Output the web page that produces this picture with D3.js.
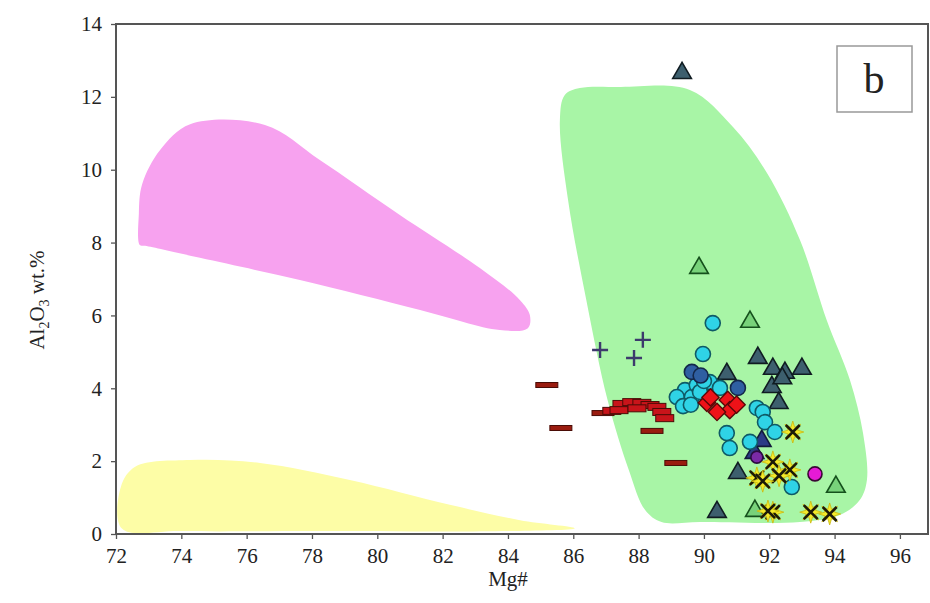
<!DOCTYPE html>
<html>
<head>
<meta charset="utf-8">
<script src="https://cdn.jsdelivr.net/npm/d3@7"></script>
<style>
  html, body { margin: 0; padding: 0; background: #ffffff; }
  svg { display: block; }
  text { font-family: "Liberation Serif", "DejaVu Serif", serif; fill: #222; }
</style>
</head>
<body>
<svg id="chart" width="930" height="603"></svg>
<script>
// Axis ticks
const xTicks = [72, 74, 76, 78, 80, 82, 84, 86, 88, 90, 92, 94, 96];
const yTicks = [0, 2, 4, 6, 8, 10, 12, 14];

// Field outlines [Mg#, Al2O3]
const pinkField = [[72.73,7.93],[72.70,8.80],[72.80,9.60],[73.35,10.54],[74.27,11.25],[76.56,11.23],[78.24,10.27],
  [80.69,8.76],[83.14,7.30],[84.37,6.42],[84.67,6.01],[84.61,5.65],[83.75,5.60],[81.31,6.15],
  [77.63,6.97],[74.57,7.58],[72.89,7.91]];
const yellowField = [[72.18,0.15],[72.15,1.30],[72.60,1.85],[74.27,2.03],[76.41,1.95],[79.16,1.48],
  [82.22,0.80],[84.37,0.38],[86.05,0.16],[84.0,0.08],[78.0,0.08],[74.0,0.08]];
const greenField = [[86.20,12.24],[87.43,12.27],[89.57,12.19],[90.89,11.17],[91.93,9.91],[92.94,8.07],
  [93.76,5.87],[94.47,4.23],[94.87,2.77],[94.99,1.48],[94.77,0.93],[94.16,0.52],[92.94,0.33],
  [89.88,0.33],[88.70,0.33],[88.20,0.66],[87.70,1.76],[87.05,3.68],[86.40,6.42],[85.84,9.17],
  [85.59,11.36],[85.74,12.05]];

// Sample series [Mg#, Al2O3]
const darkDashes = [[85.19,4.09],[85.62,2.91],[86.91,3.32],[88.41,2.83],[89.14,1.95]];
const redDashes = [[87.18,3.38],[87.49,3.57],[87.79,3.62],[88.10,3.60],[88.35,3.54],[88.56,3.49],
  [88.71,3.35],[88.80,3.18],[87.40,3.40],[87.95,3.45]];
const crosses = [[86.82,5.05],[87.86,4.83],[88.13,5.33]];
const openTriangles = [[89.85,7.33],[91.41,5.85],[94.04,1.32],[91.56,0.66]];
const slateTriangles = [[89.33,12.68],[90.70,4.42],[91.65,4.86],[92.11,4.56],[92.48,4.45],
  [93.00,4.56],[92.08,4.06],[92.29,3.62],[91.04,1.70],[90.40,0.63],[92.40,4.30]];
const navyTriangles = [[91.77,2.58],[91.55,2.25]];
const cyanCircles = [[90.27,5.79],[89.97,4.94],[90.18,4.17],[89.42,3.95],[89.17,3.76],[89.63,3.76],
  [89.36,3.51],[90.49,4.01],[91.62,3.46],[91.80,3.35],[91.87,3.07],[92.17,2.80],[90.70,2.77],
  [90.79,2.36],[91.41,2.53],[92.69,1.29],[89.78,4.09],[89.88,3.90],[89.60,3.55],[90.00,4.20]];
const blueCircles = [[89.63,4.45],[91.04,4.01],[89.90,4.35]];
const redDiamonds = [[90.09,3.60],[90.73,3.68],[90.79,3.40],[90.40,3.35],[91.00,3.55],[90.20,3.75]];
const purpleCircles = [[91.62,2.11]];
const magentaCircles = [[93.40,1.65]];
const yellowStars = [[92.72,2.80],[91.62,1.54],[92.11,1.98],[92.63,1.76],[92.11,0.60],[93.27,0.60],
  [93.85,0.55],[91.96,0.63],[92.30,1.60],[91.80,1.45]];

const svg = d3.select("#chart");
const plotLeft = 116, plotRight = 928, plotTop = 24, plotBottom = 534;
const serif = "'Liberation Serif', 'DejaVu Serif', serif";

const x = d3.scaleLinear().domain([72, 96.86]).range([plotLeft, plotRight]);
const y = d3.scaleLinear().domain([0, 14]).range([plotBottom, plotTop]);

// Compositional fields
const area = d3.line().x(d => x(d[0])).y(d => y(d[1])).curve(d3.curveCatmullRomClosed.alpha(0.5));
svg.append("path").attr("d", area(greenField)).attr("fill", "#a8f5a6");
svg.append("path").attr("d", area(pinkField)).attr("fill", "#f7a2ef");
svg.append("path").attr("d", area(yellowField)).attr("fill", "#fdfda6");

// Axes
const xAxis = d3.axisBottom(x).tickValues(xTicks).tickSize(5).tickPadding(9);
const yAxis = d3.axisLeft(y).tickValues(yTicks).tickSize(5).tickPadding(9);
const gx = svg.append("g").attr("transform", `translate(0,${plotBottom})`).call(xAxis);
const gy = svg.append("g").attr("transform", `translate(${plotLeft},0)`).call(yAxis);
[gx, gy].forEach(g => {
  g.attr("font-family", serif).attr("font-size", 21);
  g.select(".domain").remove();
  g.selectAll("line").attr("stroke", "#555").attr("stroke-width", 1.3);
  g.selectAll("text").attr("fill", "#333");
});

// Plot frame
svg.append("rect").attr("x", plotLeft).attr("y", plotTop)
  .attr("width", plotRight - plotLeft).attr("height", plotBottom - plotTop)
  .attr("fill", "none").attr("stroke", "#555").attr("stroke-width", 2);

const plot = svg.append("g");

// Dashes
function dashes(data, fill, w, h) {
  plot.selectAll(null).data(data).enter().append("rect")
    .attr("x", d => x(d[0]) - w / 2).attr("y", d => y(d[1]) - h / 2)
    .attr("width", w).attr("height", h)
    .attr("fill", fill).attr("stroke", "#4a0c06").attr("stroke-width", 1);
}
dashes(darkDashes, "#9a1c10", 22, 5);
dashes(redDashes, "#c8141a", 18, 7);

// Crosses
plot.selectAll(null).data(crosses).enter().append("path")
  .attr("d", d => {
    const cx = x(d[0]), cy = y(d[1]), r = 8;
    return `M${cx - r},${cy}H${cx + r}M${cx},${cy - r}V${cy + r}`;
  })
  .attr("stroke", "#3c3a6c").attr("stroke-width", 2.4).attr("fill", "none");

const tri = d3.symbol().type(d3.symbolTriangle).size(150);
function triangles(data, fill, stroke) {
  plot.selectAll(null).data(data).enter().append("path")
    .attr("d", tri).attr("transform", d => `translate(${x(d[0])},${y(d[1]) + 1})`)
    .attr("fill", fill).attr("stroke", stroke).attr("stroke-width", 1.6);
}
triangles(slateTriangles, "#3d5f6e", "#101c22");
triangles(openTriangles, "#78d27a", "#15501c");
triangles(navyTriangles, "#2c3c86", "#121a3c");

function circles(data, fill, stroke, r) {
  plot.selectAll(null).data(data).enter().append("circle")
    .attr("cx", d => x(d[0])).attr("cy", d => y(d[1])).attr("r", r)
    .attr("fill", fill).attr("stroke", stroke).attr("stroke-width", 1.6);
}
circles(cyanCircles, "#2fd3e6", "#0f5a66", 7.5);
circles(blueCircles, "#2f5fa2", "#14284a", 7.5);
circles(purpleCircles, "#7b2aa6", "#2c0c40", 6);
circles(magentaCircles, "#e61ad6", "#3a0834", 7);

// Red diamonds (square turned 45 degrees)
const diamond = d3.symbol().type(d3.symbolSquare).size(150);
plot.selectAll(null).data(redDiamonds).enter().append("path")
  .attr("d", diamond).attr("transform", d => `translate(${x(d[0])},${y(d[1])}) rotate(45)`)
  .attr("fill", "#ee1218").attr("stroke", "#5a0808").attr("stroke-width", 1.4)
  .attr("stroke-linejoin", "round");

// Yellow stars with black cross
function starPath(r1, r2, n) {
  const pts = [];
  for (let i = 0; i < 2 * n; i++) {
    const a = Math.PI * i / n;
    const r = i % 2 ? r2 : r1;
    pts.push([r * Math.sin(a), -r * Math.cos(a)]);
  }
  return "M" + pts.map(p => p.join(",")).join("L") + "Z";
}
const sp = starPath(11, 5, 8);
const star = plot.selectAll(null).data(yellowStars).enter().append("g")
  .attr("transform", d => `translate(${x(d[0])},${y(d[1])})`);
star.append("path").attr("d", sp).attr("fill", "#f4ea2a").attr("stroke", "#c9b80e").attr("stroke-width", 0.8);
star.append("path").attr("d", "M-7,-7L7,7M-7,7L7,-7").attr("stroke", "#1c1a08").attr("stroke-width", 2.6);

// Panel label
svg.append("rect").attr("x", 837).attr("y", 46).attr("width", 75).attr("height", 66)
  .attr("fill", "#fff").attr("stroke", "#999").attr("stroke-width", 1.5);
svg.append("text").attr("x", 874).attr("y", 93).attr("text-anchor", "middle")
  .attr("font-family", serif).attr("font-size", 42).text("b");

// Axis titles
svg.append("text").attr("x", 508).attr("y", 586).attr("text-anchor", "middle")
  .attr("font-family", serif).attr("font-size", 21).text("Mg#");
const yl = svg.append("text").attr("transform", "translate(44,300) rotate(-90)")
  .attr("text-anchor", "middle").attr("font-family", serif).attr("font-size", 21);
yl.append("tspan").text("Al");
yl.append("tspan").attr("font-size", 14).attr("dy", 5).text("2");
yl.append("tspan").attr("dy", -5).text("O");
yl.append("tspan").attr("font-size", 14).attr("dy", 5).text("3");
yl.append("tspan").attr("dy", -5).text(" wt.%");
</script>
</body>
</html>
